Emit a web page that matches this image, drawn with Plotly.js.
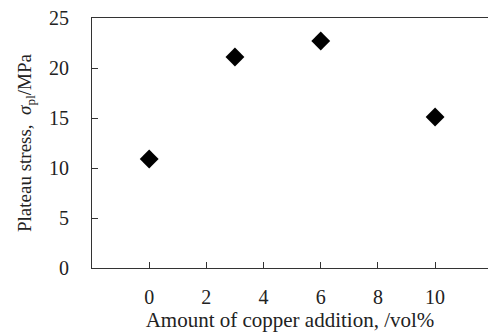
<!DOCTYPE html>
<html><head><meta charset="utf-8">
<script src="https://cdn.plot.ly/plotly-3.0.1.min.js"></script>
<style>html,body{margin:0;padding:0;background:#fff}#chart{width:488px;height:332px}</style>
</head><body><div id="chart"></div>
<script>
var copperAddition = [0, 3, 6, 10];
var plateauStress = [10.9, 21.1, 22.7, 15.1];
var xTickVals = [0, 2, 4, 6, 8, 10];
var yTickVals = [0, 5, 10, 15, 20, 25];

var trace = {
  x: copperAddition, y: plateauStress, type: 'scatter', mode: 'markers',
  marker: {symbol: 'diamond', size: 14.5, color: '#000'},
  hoverinfo: 'skip'
};
var fam = '"Liberation Serif", "Times New Roman", serif';
var tickFont = {family: fam, size: 20, color: '#222'};
var layout = {
  width: 488, height: 332,
  margin: {l: 92, r: 0, t: 18, b: 64},
  paper_bgcolor: '#fff', plot_bgcolor: '#fff',
  showlegend: false,
  font: tickFont,
  xaxis: {
    range: [-2, 11.85], tickvals: xTickVals, ticks: 'inside', ticklen: 6, tickcolor: '#333',
    showline: true, linecolor: '#333', linewidth: 1, mirror: true, showgrid: false, zeroline: false,
    tickfont: tickFont, ticklabelstandoff: 11,
    title: {text: 'Amount of copper addition, /vol%', font: {family: fam, size: 21, color: '#222'}, standoff: 5}
  },
  yaxis: {
    range: [0, 25], tickvals: yTickVals, ticks: 'inside', ticklen: 6, tickcolor: '#333',
    showline: true, linecolor: '#333', linewidth: 1, showgrid: false, zeroline: false,
    tickfont: tickFont, ticklabelstandoff: 18,
    title: {text: 'Plateau stress,  <i>σ</i><sub>pl</sub>/MPa', font: {family: fam, size: 19, color: '#222'}, standoff: 12}
  }
};
Plotly.newPlot('chart', [trace], layout, {staticPlot: true, displayModeBar: false});
</script></body></html>
